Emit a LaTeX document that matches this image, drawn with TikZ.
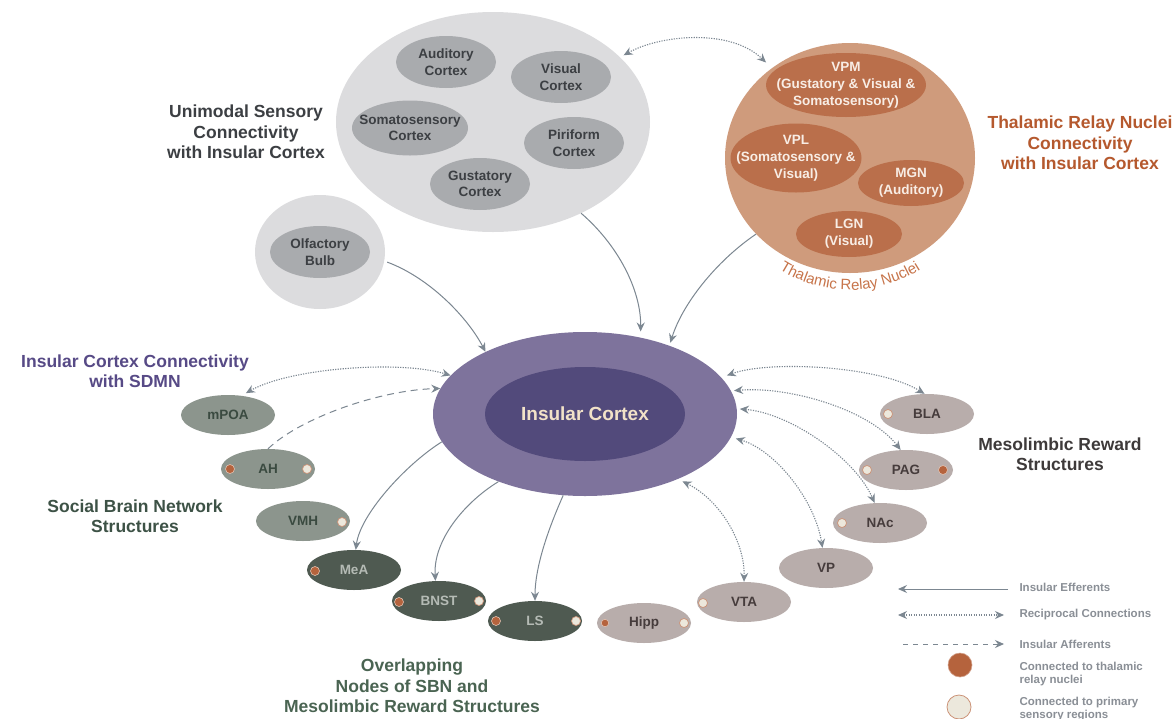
\documentclass[tikz,border=0pt]{standalone}
\usepackage{fontspec}
\setmainfont{Liberation Sans}
\usetikzlibrary{shapes.geometric,arrows.meta,decorations.text}
\definecolor{uniout}{HTML}{DCDCDE}
\definecolor{uniin}{HTML}{A9ABAE}
\definecolor{unitext}{HTML}{3C3F43}
\definecolor{thout}{HTML}{CF9B7C}
\definecolor{thinn}{HTML}{BA6F4B}
\definecolor{thtext}{HTML}{F8EDE5}
\definecolor{thtitle}{HTML}{B5592E}
\definecolor{tharc}{HTML}{C7744A}
\definecolor{insout}{HTML}{7E739C}
\definecolor{insin}{HTML}{524A7B}
\definecolor{instext}{HTML}{F2E2C8}
\definecolor{sbn}{HTML}{8C958D}
\definecolor{sbntext}{HTML}{3A4A40}
\definecolor{ovl}{HTML}{4F5A51}
\definecolor{ovltext}{HTML}{B5BBB5}
\definecolor{mes}{HTML}{B8ADAB}
\definecolor{mestext}{HTML}{463C3C}
\definecolor{dotor}{HTML}{B5633D}
\definecolor{dotlt}{HTML}{ECE8DC}
\definecolor{arr}{HTML}{7C8791}
\definecolor{legtext}{HTML}{8A8F96}
\definecolor{sdmn}{HTML}{574A86}
\definecolor{sbntitle}{HTML}{3D5246}
\definecolor{mestitle}{HTML}{3E3A3A}
\definecolor{ovltitle}{HTML}{4A6452}
\begin{document}
\begin{tikzpicture}[x=1pt,y=-1pt,
  >={Stealth[length=9pt,width=8pt,inset=3pt]},
  blob/.style={ellipse, inner sep=0pt, align=center, font=\fontsize{13.5}{16.5}\selectfont\bfseries},
  unisub/.style={blob, fill=uniin, text=unitext, minimum width=100pt, minimum height=52pt},
  thsub/.style={ellipse, inner sep=0pt, fill=thinn},
  thtxt/.style={align=center, inner sep=0pt, text=thtext, font=\fontsize{13.5}{17}\selectfont\bfseries},
  sbnn/.style={blob, fill=sbn, text=sbntext, minimum width=94pt, minimum height=40pt},
  ovln/.style={blob, fill=ovl, text=ovltext, minimum width=94pt, minimum height=40pt},
  mesn/.style={blob, fill=mes, text=mestext, minimum width=94pt, minimum height=40pt},
  dor/.style={circle, inner sep=0pt, minimum size=9pt, fill=dotor, draw=dotor!40!white, line width=0.6pt},
  dlt/.style={circle, inner sep=0pt, minimum size=9pt, fill=dotlt, draw=dotor!70!white, line width=0.7pt},
  ttl/.style={align=center, font=\fontsize{17.5}{20.5}\selectfont\bfseries},
  legtxt/.style={anchor=west, align=left, text=legtext, font=\fontsize{11.5}{13.5}\selectfont\bfseries},
  eff/.style={draw=arr, line width=1pt, ->},
  rec/.style={draw=arr, line width=1.1pt, dash pattern=on 1.2pt off 1.3pt, <->},
  aff/.style={draw=arr, line width=1pt, dash pattern=on 7pt off 5pt, ->}
]
\fill[white] (0,0) rectangle (1173,718);
\useasboundingbox (0,0) rectangle (1173,718);

% unimodal sensory cluster
\node[ellipse, fill=uniout, minimum width=314pt, minimum height=220pt, inner sep=0pt] (uni) at (493,122) {};
\node[unisub] (aud) at (446,62) {Auditory\\Cortex};
\node[unisub] (vis) at (561,77) {Visual\\Cortex};
\node[ellipse, inner sep=0pt, fill=uniin, minimum width=116pt, minimum height=55pt] (som) at (410,128) {};
\node[align=center, inner sep=0pt, text=unitext, font=\fontsize{13.5}{16.5}\selectfont\bfseries] (somlab) at (som) {Somatosensory\\Cortex};
\node[unisub] (pir) at (574,143) {Piriform\\Cortex};
\node[unisub] (gus) at (480,184) {Gustatory\\Cortex};

% olfactory bulb
\node[ellipse, fill=uniout, minimum width=130pt, minimum height=114pt, inner sep=0pt] (olf) at (320,252) {};
\node[unisub] (olfin) at (320,252) {Olfactory\\Bulb};

% thalamic relay nuclei
\node[ellipse, fill=thout, minimum width=250pt, minimum height=230pt, inner sep=0pt] (thal) at (850,158) {};
\node[thsub, minimum width=160pt, minimum height=64pt] (vpm) at (846,85) {};
\node[thtxt] (vpmlab) at (vpm) {VPM\\(Gustatory \& Visual \&\\Somatosensory)};
\node[thsub, minimum width=131pt, minimum height=69pt] (vpl) at (796,158) {};
\node[thtxt] (vpllab) at (vpl) {VPL\\(Somatosensory \&\\Visual)};
\node[thsub, minimum width=106pt, minimum height=46pt] (mgn) at (911,183) {};
\node[thtxt] (mgnlab) at (mgn) {MGN\\(Auditory)};
\node[thsub, minimum width=106pt, minimum height=46pt] (lgn) at (849,234) {};
\node[thtxt] (lgnlab) at (lgn) {LGN\\(Visual)};
\path[decorate, decoration={text along path, text align=center,
  text={|\fontsize{15}{15}\selectfont\color{tharc}|Thalamic Relay Nuclei}}]
  (774.3,266.1) .. controls (819.8,297.9) and (880.2,297.9) .. (925.7,266.1);

% insular cortex
\node[ellipse, fill=insout, minimum width=304pt, minimum height=164pt, inner sep=0pt] (ins) at (585,414) {};
\node[ellipse, fill=insin, minimum width=200pt, minimum height=94pt, inner sep=0pt,
  text=instext, font=\fontsize{19}{22}\selectfont\bfseries] (insc) at (585,414) {Insular Cortex};

% SBN nodes
\node[sbnn] (mpoa) at (228,415) {mPOA};
\node[sbnn] (ah) at (268,469) {AH};
\node[sbnn] (vmh) at (303,521) {VMH};
% overlapping nodes
\node[ovln] (mea) at (354,570) {MeA};
\node[ovln] (bnst) at (439,601) {BNST};
\node[ovln] (ls) at (535,621) {LS};
% mesolimbic nodes
\node[mesn] (hipp) at (644,623) {Hipp};
\node[mesn] (vta) at (744,602) {VTA};
\node[mesn] (vp) at (826,568) {VP};
\node[mesn] (nac) at (880,523) {NAc};
\node[mesn] (pag) at (906,470) {PAG};
\node[mesn] (bla) at (927,414) {BLA};

% dots
\node[dor] (d1) at (230,469) {};
\node[dlt] (d2) at (307,469) {};
\node[dlt] (d3) at (342,522) {};
\node[dor] (d4) at (315,571) {};
\node[dor] (d5) at (399,602) {};
\node[dlt] (d6) at (479,601) {};
\node[dor] (d7) at (496,621) {};
\node[dlt] (d8) at (576,621) {};
\node[dor, minimum size=7.5pt] (d9) at (605,623) {};
\node[dlt] (d10) at (684,623) {};
\node[dlt] (d11) at (703,603) {};
\node[dlt] (d12) at (842,523) {};
\node[dlt] (d13) at (867,470) {};
\node[dor] (d14) at (943,470) {};
\node[dlt] (d15) at (888,414) {};

% afferents to insula
\draw[eff, shorten >=6pt] (uni.-46) .. controls (618,245) and (641,290) .. (ins.54);
\draw[eff, shorten <=3pt] (olf.-8) .. controls (430,278) and (468,318) .. (ins.148);
\draw[eff, shorten >=3pt] (thal.219) .. controls (715,262) and (682,305) .. (ins.39);
\draw[rec, shorten <=4pt, shorten >=8pt] (uni.27) .. controls (660,35) and (730,28) .. (thal.131);

% left connections
\draw[rec, shorten <=5pt] (mpoa.55) .. controls (290,368) and (400,360) .. (ins.164);
\draw[aff] (ah.north) .. controls (300,418) and (380,390) .. (ins.170);
\draw[eff] (ins.191) .. controls (405,465) and (360,515) .. (mea.85);
\draw[eff] (ins.218) .. controls (465,502) and (433,540) .. (bnst.100);
\draw[eff] (ins.255) .. controls (550,525) and (535,565) .. (ls.north);

% right connections
\draw[rec, shorten <=6pt] (ins.15) .. controls (770,360) and (880,366) .. (bla.97);
\draw[rec, shorten <=3pt] (ins.9) .. controls (790,386) and (870,410) .. (pag.105);
\draw[rec, shorten <=3pt] (ins.2) .. controls (790,413) and (855,458) .. (nac.105);
\draw[rec, shorten <=5pt] (ins.-9) .. controls (775,450) and (815,500) .. (vp.100);
\draw[rec, shorten <=5pt] (ins.-35) .. controls (720,500) and (745,542) .. (vta.north);

% titles
\node[ttl, text=unitext] (t1) at (246,132) {Unimodal Sensory\\Connectivity\\with Insular Cortex};
\node[ttl, text=thtitle] (t2) at (1080,143) {Thalamic Relay Nuclei\\Connectivity\\with Insular Cortex};
\node[ttl, text=sdmn] (t3) at (135,371) {Insular Cortex Connectivity\\with SDMN};
\node[ttl, text=sbntitle] (t4) at (135,516) {Social Brain Network\\Structures};
\node[ttl, text=mestitle] (t5) at (1060,454) {Mesolimbic Reward\\Structures};
\node[ttl, text=ovltitle] (t6) at (412,686) {Overlapping\\Nodes of SBN and\\Mesolimbic Reward Structures};

% legend
\coordinate (l1a) at (1008,589); \coordinate (l1b) at (898,589);
\draw[eff] (l1a) -- (l1b);
\coordinate (l2a) at (898,615); \coordinate (l2b) at (1004,615);
\draw[rec] (l2a) -- (l2b);
\coordinate (l3a) at (903,644); \coordinate (l3b) at (1004,644);
\draw[aff, dash pattern=on 5pt off 5pt] (l3a) -- (l3b);
\node[circle, inner sep=0pt, minimum size=24pt, fill=dotor, draw=dotor!60!white, line width=0.6pt] (lg4) at (960,665) {};
\node[circle, inner sep=0pt, minimum size=24pt, fill=dotlt, draw=dotor!70!white, line width=0.8pt] (lg5) at (959,707) {};
\node[legtxt] (lt1) at (1016,587) {Insular Efferents};
\node[legtxt] (lt2) at (1016,615) {Reciprocal Connections};
\node[legtxt] (lt3) at (1016,644) {Insular Afferents};
\node[legtxt] (lt4) at (1016,674) {Connected to thalamic\\relay nuclei};
\node[legtxt] (lt5) at (1016,709) {Connected to primary\\sensory regions};
\end{tikzpicture}
\end{document}
